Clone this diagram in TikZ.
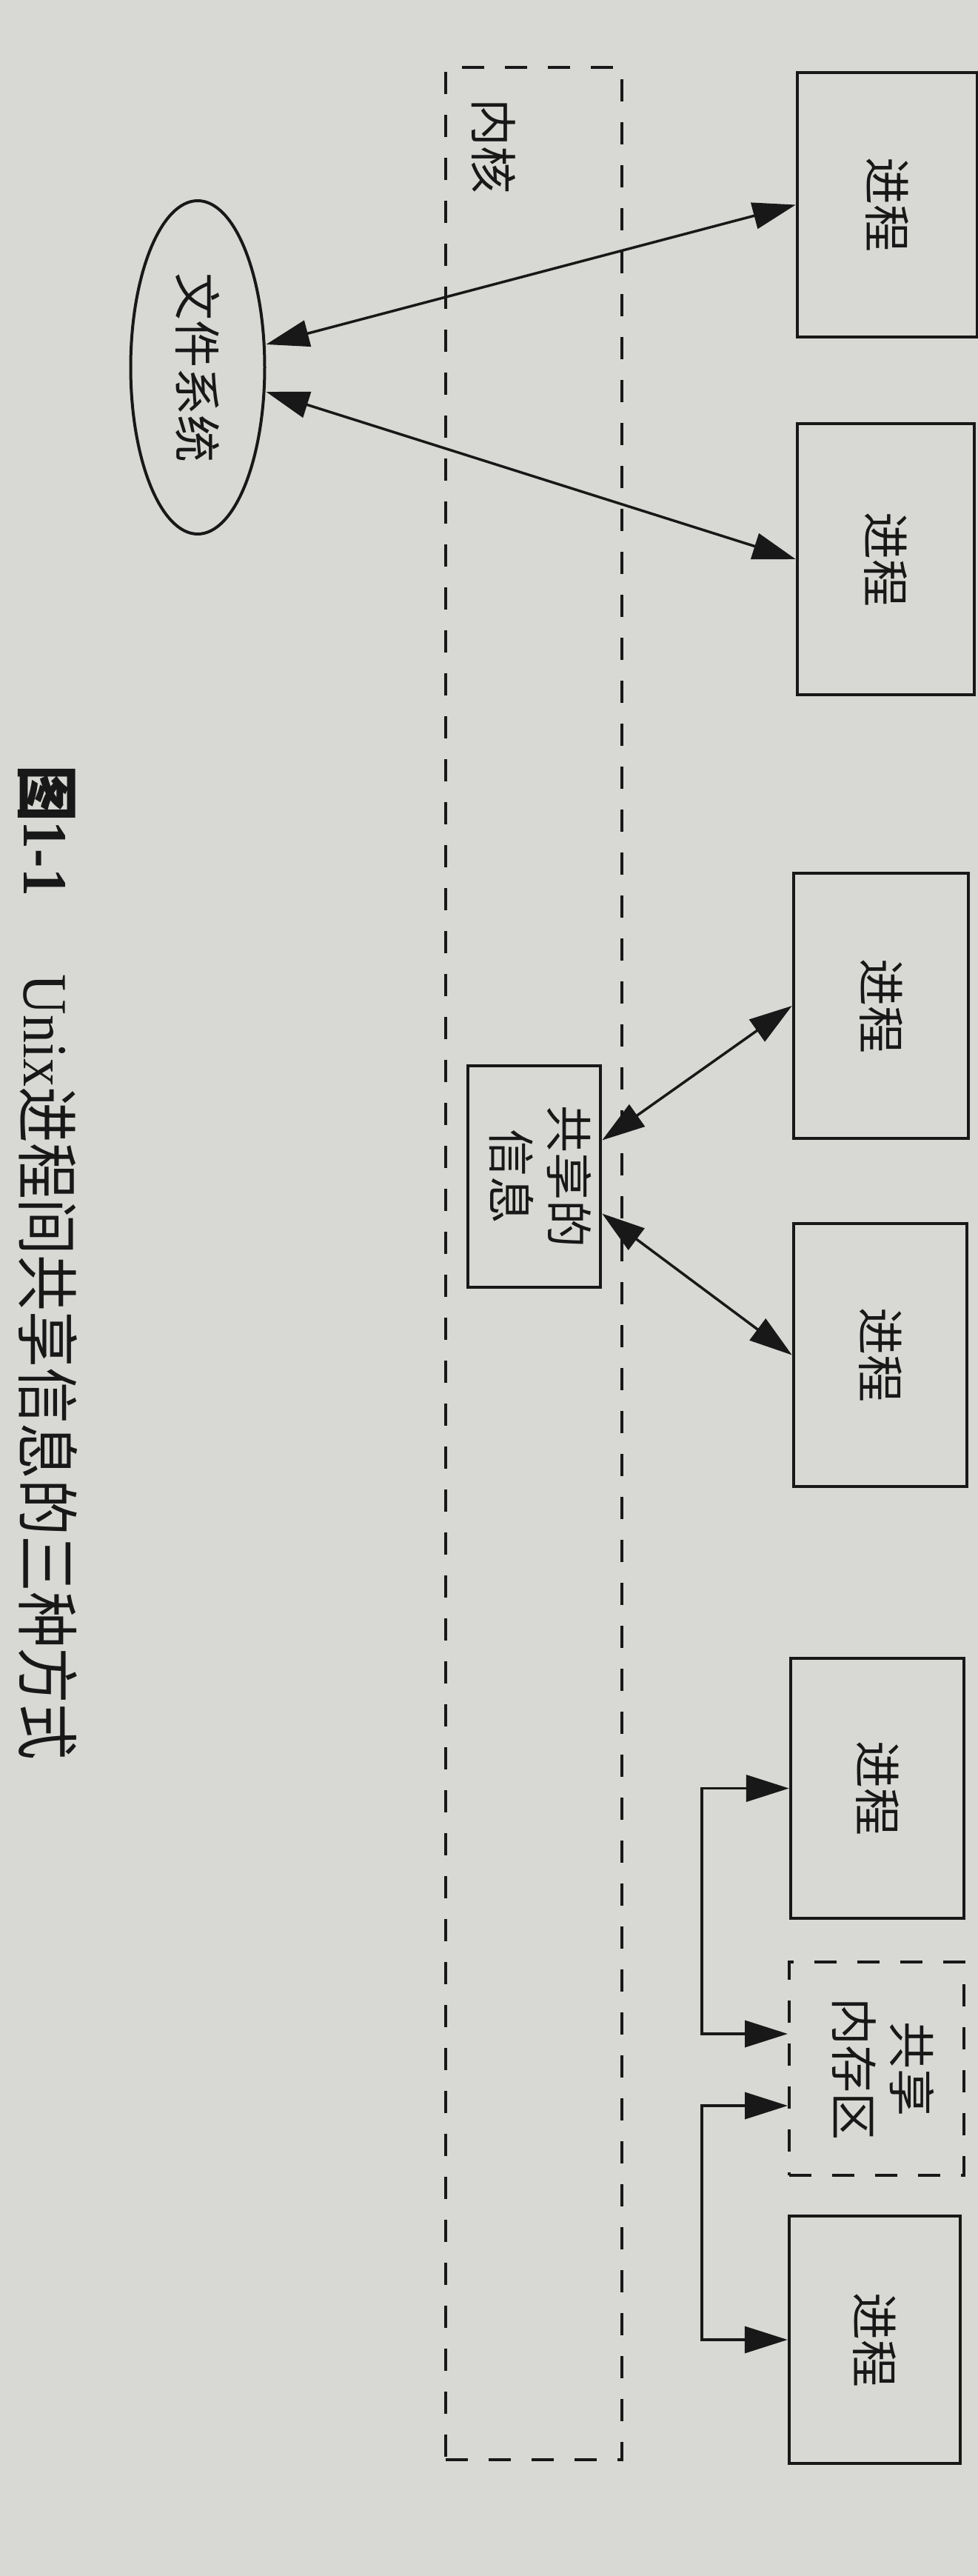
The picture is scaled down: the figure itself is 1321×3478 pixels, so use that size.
\documentclass[tikz,border=0pt]{standalone}
\usepackage{fontspec}
\usepackage{graphicx}
\setmainfont{Liberation Serif}
\newfontfamily\cjk{Noto Sans CJK SC}
\usetikzlibrary{arrows.meta,shapes.geometric}
\definecolor{paper}{RGB}{216,216,212}
\definecolor{ink}{RGB}{24,24,24}
\newcommand\vtxt[1]{\rotatebox{-90}{\cjk #1}}
\newcommand\vtxtii[2]{\rotatebox{-90}{\cjk\begin{tabular}{@{}c@{}}#1\\#2\end{tabular}}}
\tikzset{
  boxfont/.style={font=\fontsize{64}{78}\selectfont},
  procbox/.style={draw=ink, line width=4.5pt, rectangle, inner sep=0pt, boxfont, text=ink},
  dashbox/.style={draw=ink, line width=4pt, rectangle, inner sep=0pt, dash pattern=on 30pt off 28pt, boxfont, text=ink},
  biarrow/.style={draw=ink, line width=3.5pt, {Triangle[length=58pt,width=36pt]}-{Triangle[length=58pt,width=36pt]}},
}
\begin{document}
\begin{tikzpicture}[x=1pt,y=-1pt]
\fill[paper] (0,0) rectangle (1321,3478);
\useasboundingbox (0,0) rectangle (1321,3478);
% kernel
\node[dashbox, minimum width=238pt, minimum height=3230pt] (kernel) at (721,1706) {};
\node[rotate=-90, inner sep=0pt, text=ink, font=\fontsize{64}{76}\selectfont\cjk] (klabel) at (667,197) {内核};
% file system
\node[ellipse, draw=ink, line width=4pt, inner sep=0pt, minimum width=181pt, minimum height=450pt, boxfont, text=ink] (fs) at (267,496) {\vtxt{文件系统}};
% processes
\node[procbox, minimum width=243pt, minimum height=357pt] (p1) at (1198.5,276.5) {\vtxt{进程}};
\node[procbox, minimum width=239pt, minimum height=366pt] (p2) at (1196.5,755) {\vtxt{进程}};
\node[procbox, minimum width=236pt, minimum height=358pt] (p3) at (1190,1358) {\vtxt{进程}};
\node[procbox, minimum width=234pt, minimum height=355pt] (p4) at (1189,1829.5) {\vtxt{进程}};
\node[procbox, minimum width=234pt, minimum height=351pt] (p5) at (1185,2414.5) {\vtxt{进程}};
\node[dashbox, minimum width=236pt, minimum height=288pt] (shm) at (1184,2793) {\vtxtii{共享}{内存区}};
\node[procbox, minimum width=231pt, minimum height=334pt] (p6) at (1181.5,3159) {\vtxt{进程}};
% shared info
\node[procbox, minimum width=179pt, minimum height=299pt] (info) at (721.5,1588.5) {\vtxtii{共享的}{信息}};
% connectors
\draw[biarrow] ([yshift=31pt]fs.east) -- (p1.west);
\draw[biarrow] ([yshift=-33pt]fs.east) -- (p2.west);
\draw[biarrow] ([yshift=49pt]info.east) -- (p3.west);
\draw[biarrow] ([yshift=-50pt]info.east) -- (p4.west);
\draw[biarrow] (p5.west) -- ++(-118,0) |- ([yshift=47pt]shm.west);
\draw[biarrow] ([yshift=-50pt]shm.west) -- ++(-116,0) |- (p6.west);
% caption
\node[rotate=-90, anchor=west, inner sep=0pt, text=ink, font=\fontsize{70}{84}\selectfont] (cap) at (64,1033)
  {\resizebox{1343pt}{!}{\scalebox{1}[1.12]{{\cjk\bfseries 图}{\bfseries 1-1}\hspace{1.4em}Unix{\cjk 进程间共享信息的三种方式}}}};
\end{tikzpicture}
\end{document}
